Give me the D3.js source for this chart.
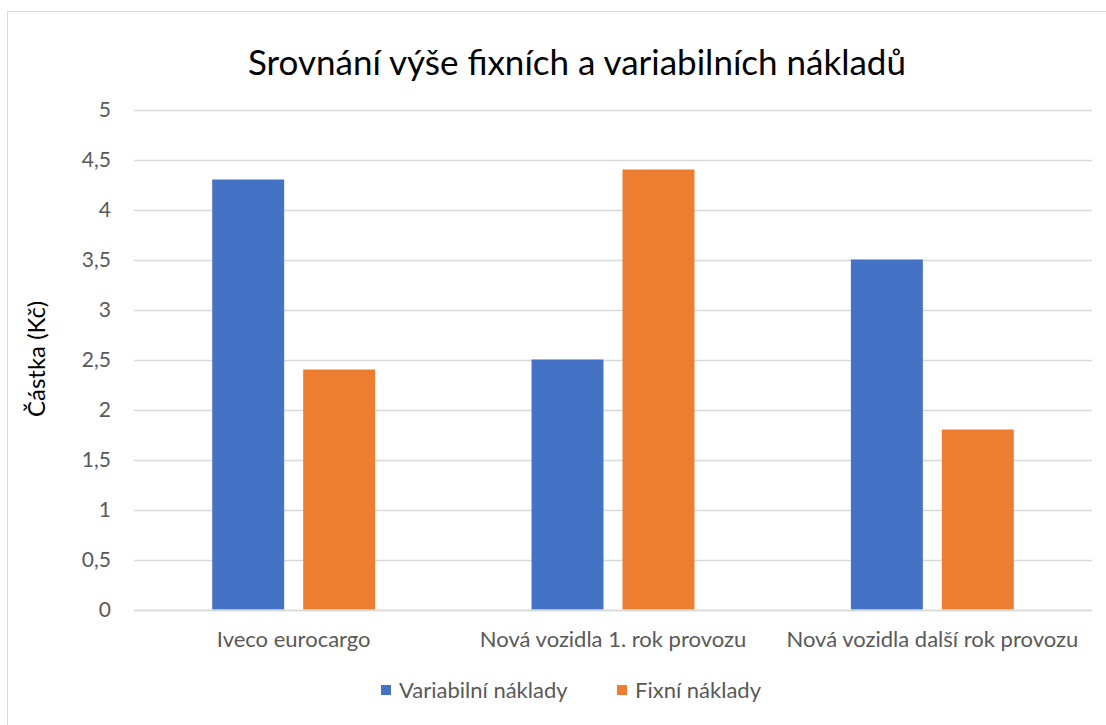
<!DOCTYPE html>
<html>
<head>
<meta charset="utf-8">
<script src="https://cdn.jsdelivr.net/npm/d3@7"></script>
<style>
  body { margin: 0; background: #fff; }
  svg { font-family: "Lato", "Open Sans", sans-serif; }
</style>
</head>
<body>
<div id="chart"></div>
<script>
// data
var categories = ["Iveco eurocargo", "Nová vozidla 1. rok provozu", "Nová vozidla další rok provozu"];
var seriesNames = ["Variabilní náklady", "Fixní náklady"];
var variabilni = [4.3, 2.5, 3.5];
var fixni = [2.4, 4.4, 1.8];
var yTicks = [0, 0.5, 1, 1.5, 2, 2.5, 3, 3.5, 4, 4.5, 5];
var colors = ["#4472C4", "#ED7D31"];

var width = 1106, height = 725;
var svg = d3.select("#chart").append("svg")
	.attr("width", width)
	.attr("height", height);

// chart frame
svg.append("rect")
	.attr("x", 7.5).attr("y", 11.5)
	.attr("width", 1110).attr("height", 730)
	.style("fill", "white")
	.style("stroke", "#D9D9D9");

var plot = { left: 134, right: 1092, top: 109.5, bottom: 609.5 };

var y = d3.scaleLinear().domain([0, 5]).range([plot.bottom, plot.top]);
var x0 = d3.scaleBand().domain(categories).range([plot.left, plot.right]).padding(0);
var x1 = d3.scaleBand().domain(seriesNames).range([0, x0.bandwidth()])
	.paddingInner(0.209).paddingOuter(0.86);

// gridlines
svg.selectAll("line.grid")
	.data(yTicks)
	.enter()
	.append("line")
	.attr("x1", plot.left).attr("x2", plot.right)
	.attr("y1", function (d) { return Math.round(y(d)) + 0.5; })
	.attr("y2", function (d) { return Math.round(y(d)) + 0.5; })
	.style("stroke", "#D9D9D9")
	.style("stroke-width", 1.3);

// y tick labels
svg.selectAll("text.ytick")
	.data(yTicks)
	.enter()
	.append("text")
	.attr("x", 111)
	.attr("y", function (d) { return y(d); })
	.attr("dy", "0.35em")
	.attr("text-anchor", "end")
	.style("font-size", "21px")
	.style("fill", "#595959")
	.text(function (d) { return String(d).replace(".", ","); });

// bars
var rows = categories.map(function (c, i) {
	return { cat: c, values: [variabilni[i], fixni[i]] };
});
var groups = svg.selectAll("g.group")
	.data(rows)
	.enter()
	.append("g")
	.attr("transform", function (d) { return "translate(" + x0(d.cat) + ",0)"; });
groups.selectAll("rect")
	.data(function (d) { return d.values.map(function (v, i) { return { s: seriesNames[i], v: v, i: i }; }); })
	.enter()
	.append("rect")
	.attr("x", function (d) { return x1(d.s); })
	.attr("y", function (d) { return y(d.v); })
	.attr("width", x1.bandwidth())
	.attr("height", function (d) { return y(0) - y(d.v); })
	.style("fill", function (d) { return colors[d.i]; });

// zero line on top
svg.append("line")
	.attr("x1", plot.left).attr("x2", plot.right)
	.attr("y1", Math.round(y(0)) + 0.5).attr("y2", Math.round(y(0)) + 0.5)
	.style("stroke", "#D9D9D9")
	.style("stroke-width", 1.3);

// x labels
svg.selectAll("text.xlab")
	.data(categories)
	.enter()
	.append("text")
	.attr("x", function (d) { return x0(d) + x0.bandwidth() / 2; })
	.attr("y", 647)
	.attr("text-anchor", "middle")
	.style("font-size", "22px")
	.style("fill", "#595959")
	.text(function (d) { return d; });

// title
svg.append("text")
	.attr("x", 577)
	.attr("y", 75)
	.attr("text-anchor", "middle")
	.style("font-size", "35px")
	.style("fill", "#000")
	.text("Srovnání výše fixních a variabilních nákladů");

// y axis title
svg.append("text")
	.attr("transform", "translate(45,359) rotate(-90)")
	.attr("text-anchor", "middle")
	.style("font-size", "24px")
	.style("fill", "#000")
	.text("Částka (Kč)");

// legend
var legendX = [381, 617];
var legend = svg.selectAll("g.legend")
	.data(seriesNames)
	.enter()
	.append("g")
	.attr("transform", function (d, i) { return "translate(" + legendX[i] + ",685)"; });
legend.append("rect")
	.attr("width", 10).attr("height", 10)
	.style("fill", function (d, i) { return colors[i]; });
legend.append("text")
	.attr("x", 18)
	.attr("y", 5)
	.attr("dy", "0.35em")
	.style("font-size", "22px")
	.style("fill", "#595959")
	.text(function (d) { return d; });
</script>
</body>
</html>
